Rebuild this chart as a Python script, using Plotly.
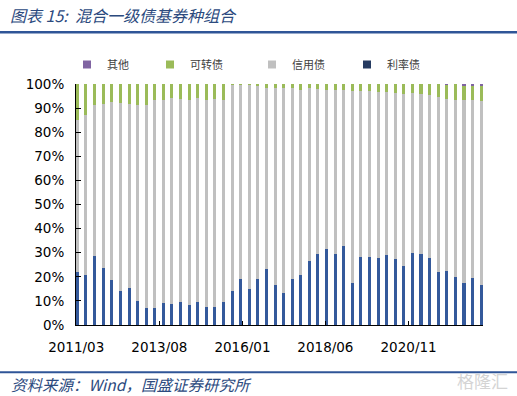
import plotly.graph_objects as go
import pandas as pd

periods = [
    "2011/03", "2011/06", "2011/09", "2011/12", "2012/03", "2012/06", "2012/09", "2012/12",
    "2013/03", "2013/06", "2013/09", "2013/12", "2014/03", "2014/06", "2014/09", "2014/12",
    "2015/03", "2015/06", "2015/09", "2015/12", "2016/03", "2016/06", "2016/09", "2016/12",
    "2017/03", "2017/06", "2017/09", "2017/12", "2018/03", "2018/06", "2018/09", "2018/12",
    "2019/03", "2019/06", "2019/09", "2019/12", "2020/03", "2020/06", "2020/09", "2020/12",
    "2021/03", "2021/06", "2021/09", "2021/12", "2022/03", "2022/06", "2022/09", "2022/12",
]
rate_bonds = [
    22.1, 20.9, 28.5, 23.8, 18.6, 14.2, 15.4, 9.8, 7.0, 7.0, 9.1, 8.7, 9.5, 8.2, 9.5, 7.3,
    7.6, 9.5, 14.3, 19.0, 15.1, 19.1, 23.2, 16.8, 13.1, 19.0, 20.9, 26.7, 29.3, 31.5, 29.6, 32.9,
    17.3, 28.2, 28.2, 27.8, 29.1, 27.2, 24.6, 29.7, 29.3, 27.8, 21.9, 22.5, 20.1, 17.6, 19.3, 16.6,
]
credit_bonds = [
    62.8, 66.1, 62.8, 67.7, 73.9, 77.8, 76.1, 81.4, 84.2, 86.2, 84.4, 85.4, 84.4, 85.0, 84.9, 86.2,
    86.3, 83.7, 85.4, 80.7, 84.7, 80.0, 75.1, 81.5, 85.2, 79.3, 76.8, 71.6, 68.7, 65.9, 68.1, 64.5,
    79.7, 68.8, 68.8, 69.0, 67.7, 69.2, 71.4, 66.5, 66.5, 67.7, 72.6, 71.3, 73.3, 75.6, 73.9, 76.4,
]
convertible_bonds = [
    15.1, 13.0, 8.7, 8.5, 7.5, 8.0, 8.5, 8.8, 8.8, 6.8, 6.5, 5.9, 6.1, 6.8, 5.6, 6.5,
    6.1, 6.8, 0.3, 0.3, 0.2, 0.9, 1.7, 1.7, 1.7, 1.7, 2.3, 1.7, 2.0, 2.6, 2.3, 2.6,
    3.0, 3.0, 3.0, 3.2, 3.2, 3.6, 4.0, 3.8, 4.2, 4.5, 5.5, 5.8, 6.6, 6.2, 6.1, 6.2,
]
others = [
    0, 0, 0, 0, 0, 0, 0, 0, 0, 0, 0, 0, 0, 0, 0, 0,
    0, 0, 0, 0, 0, 0, 0, 0, 0, 0, 0, 0, 0, 0, 0, 0,
    0, 0, 0, 0, 0, 0, 0, 0, 0, 0, 0, 0.4, 0, 0.6, 0.7, 0.8,
]
x_tick_labels = ["2011/03", "2013/08", "2016/01", "2018/06", "2020/11"]
y_ticks = list(range(0, 101, 10))
y_tick_labels = [f"{v}%" for v in y_ticks]

W, H = 517, 396
L, R, T, B = 76, 34.3, 83.5, 70.5
PW, PH = W - L - R, H - T - B

def px_x(p):
    return (p - L) / PW

def px_y(p):
    return (H - B - p) / PH

x_dates = pd.to_datetime(periods, format="%Y/%m") + pd.Timedelta(days=12)
tick_dates = pd.to_datetime(x_tick_labels, format="%Y/%m")
bar_w = 32 * 24 * 3600 * 1000

fig = go.Figure()
series = [
    ("利率债", rate_bonds, "#34599b", "#263b61"),
    ("信用债", credit_bonds, "#c0c0c0", "#c0c0c0"),
    ("可转债", convertible_bonds, "#9bbb59", "#9bbb59"),
    ("其他", others, "#8064a2", "#8064a2"),
]
for name, vals, col, _ in series:
    fig.add_trace(go.Bar(x=x_dates, y=vals, name=name, marker=dict(color=col, line=dict(width=0)),
                         width=bar_w, showlegend=False))

leg_pos = {"其他": ("legend", 87), "可转债": ("legend2", 170), "信用债": ("legend3", 272), "利率债": ("legend4", 367)}
for name, vals, col, lcol in series:
    lg, px = leg_pos[name]
    fig.add_trace(go.Scatter(x=[None], y=[None], mode="markers", name=name, legend=lg,
                             marker=dict(symbol="square", size=8, color=lcol)))

leg_common = dict(orientation="h", xref="container", yref="container", xanchor="left", yanchor="middle",
                  y=1 - 64.5 / H, bgcolor="rgba(0,0,0,0)", borderwidth=0, itemwidth=30,
                  font=dict(family="Noto Sans CJK SC", size=11, color="#404040"))
legends = {}
for name, (lg, px) in leg_pos.items():
    legends[lg] = dict(leg_common, x=(px - 20) / W)

tick_font = dict(family="DejaVu Sans", size=13.5, color="#000000")
fig.update_layout(
    width=W, height=H,
    margin=dict(l=L, r=R, t=T, b=B, autoexpand=False),
    paper_bgcolor="white", plot_bgcolor="white",
    barmode="stack", bargap=0,
    font=dict(family="DejaVu Sans", size=13, color="#000000"),
    xaxis=dict(type="date", range=["2011-02-27", "2023-01-01"], tickvals=tick_dates, ticktext=x_tick_labels,
               showgrid=False, zeroline=False, showline=True, linecolor="#000000", linewidth=1,
               ticks="inside", ticklen=4, tickcolor="#000000", tickfont=tick_font, ticklabelstandoff=10),
    yaxis=dict(range=[0, 100], tickvals=y_ticks, ticktext=y_tick_labels, showgrid=False, zeroline=False,
               showline=True, linecolor="#000000", linewidth=1, ticks="inside", ticklen=5,
               tickcolor="#000000", tickfont=tick_font, ticklabelstandoff=8),
    **legends,
)

fig.add_annotation(text="<i>图表 15:  混合一级债基券种组合</i>", xref="paper", yref="paper",
                   x=px_x(8), y=px_y(14), xanchor="left", yanchor="middle", showarrow=False,
                   font=dict(family="Noto Sans CJK SC", size=16, color="#2c4a7e"))
fig.add_annotation(text="<i>资料来源：Wind，国盛证券研究所</i>", xref="paper", yref="paper",
                   x=px_x(9), y=px_y(385), xanchor="left", yanchor="middle", showarrow=False,
                   font=dict(family="Noto Sans CJK SC", size=15.5, color="#2c4a7e"))
fig.add_annotation(text="格隆汇", xref="paper", yref="paper",
                   x=px_x(510), y=px_y(381), xanchor="right", yanchor="middle", showarrow=False,
                   font=dict(family="Noto Sans CJK SC", size=17, color="#d4d4d4"))
fig.add_shape(type="line", xref="paper", yref="paper", x0=px_x(0), x1=px_x(517),
              y0=px_y(31.5), y1=px_y(31.5), line=dict(color="#2f5597", width=2.5))
fig.add_shape(type="line", xref="paper", yref="paper", x0=px_x(0), x1=px_x(517),
              y0=px_y(373), y1=px_y(373), line=dict(color="#2f5597", width=2))

fig.write_html("out.html", config={"displayModeBar": False},
               post_script="document.body.style.margin='0';")
